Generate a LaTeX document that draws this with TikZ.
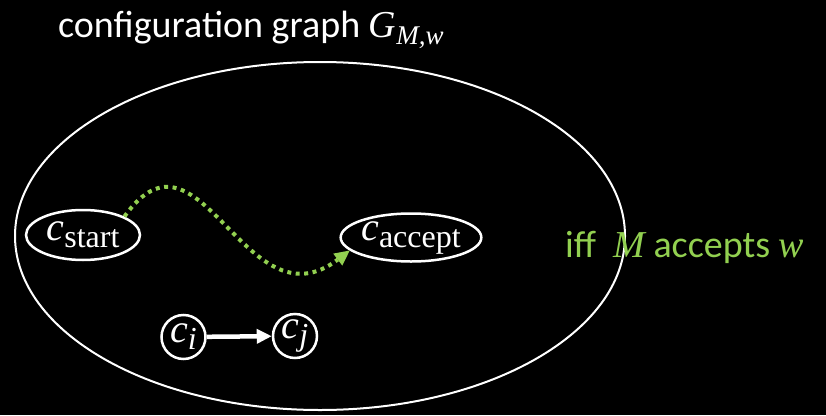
\documentclass[tikz,border=0pt]{standalone}
\usepackage{fontspec}
\setmainfont{Carlito}
\newfontfamily\mfont{Liberation Serif}
\usetikzlibrary{shapes.geometric,arrows.meta}
\definecolor{lgreen}{RGB}{146,208,80}
\newcommand\mi[1]{{\mfont\itshape #1}}
\newcommand\msub[3]{\raisebox{-#1}{\mfont\fontsize{#2}{#2}\selectfont #3}}
\begin{document}
\begin{tikzpicture}[x=1pt,y=-1pt,
  conf/.style={ellipse,draw=white,line width=2.5pt,inner sep=0pt,text=white,font=\fontsize{40}{44}\selectfont},
  lbl/.style={anchor=base west,inner sep=0pt,font=\fontsize{38}{42}\selectfont}]
\fill[black] (0,0) rectangle (826,415);
\useasboundingbox (0,0) rectangle (826,415);
\node[lbl,text=white] (title) at (58,37) {configuration graph \mi{G}\msub{7pt}{27}{\itshape M,w}};
\node[ellipse,draw=white,line width=2pt,minimum width=610pt,minimum height=348pt,inner sep=0pt] (G) at (320,236) {};
\node[conf,minimum width=114pt,minimum height=50pt] (cs) at (83,235) {\mi{c}\msub{7pt}{32}{start}};
\node[conf,minimum width=136pt,minimum height=48pt] (ca) at (411,237.5) {\mi{c}\msub{7pt}{32}{accept}};
\node[conf,circle,minimum size=44pt] (ci) at (183.5,337) {\mi{c}\msub{7pt}{32}{\itshape i}};
\node[conf,circle,minimum size=44pt] (cj) at (295,336) {\mi{c}\msub{7pt}{32}{\itshape j}};
\draw[white,line width=4.5pt,-{Triangle[length=15pt,width=14pt]}] (ci) -- (cj);
\draw[lgreen,line width=4pt,dash pattern=on 4pt off 4.5pt,-{Triangle[length=15pt,width=15pt,line width=0pt]}]
  (cs.24) .. controls (200,110) and (245,330) .. (ca.192);
\node[lbl,text=lgreen] (iff) at (565,257) {iff\ \ \mi{M} accepts \mi{w}};
\end{tikzpicture}
\end{document}
